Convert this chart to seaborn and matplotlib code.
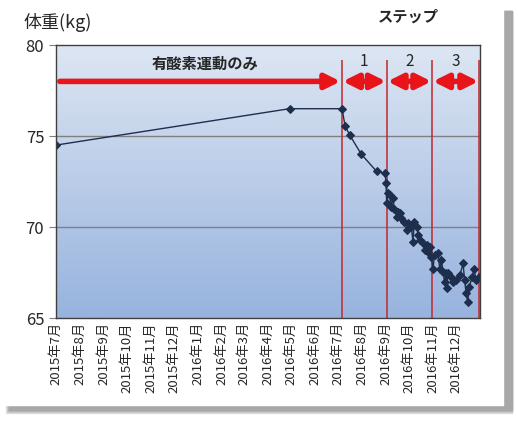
import numpy as np
import pandas as pd
import matplotlib
matplotlib.use("Agg")
import matplotlib.pyplot as plt
import matplotlib.dates as mdates
from matplotlib.colors import LinearSegmentedColormap
from matplotlib.patches import Rectangle
import seaborn as sns

# weight log (date, kg)
dates = [
    "2015-07-01", "2016-04-29", "2016-07-06", "2016-07-10", "2016-07-16",
    "2016-07-31", "2016-08-20", "2016-08-31", "2016-09-01", "2016-09-02",
    "2016-09-04", "2016-09-06", "2016-09-08", "2016-09-10", "2016-09-12",
    "2016-09-15", "2016-09-17", "2016-09-19", "2016-09-21", "2016-09-25",
    "2016-09-28", "2016-09-30", "2016-10-04", "2016-10-06", "2016-10-08",
    "2016-10-11", "2016-10-13", "2016-10-15", "2016-10-19", "2016-10-22",
    "2016-10-24", "2016-10-26", "2016-10-28", "2016-10-30", "2016-11-01",
    "2016-11-03", "2016-11-07", "2016-11-10", "2016-11-12", "2016-11-14",
    "2016-11-16", "2016-11-18", "2016-11-19", "2016-11-20", "2016-11-25",
    "2016-11-27", "2016-12-01", "2016-12-06", "2016-12-10", "2016-12-12",
    "2016-12-14", "2016-12-16", "2016-12-18", "2016-12-22", "2016-12-24",
    "2016-12-27", "2016-12-31",
]
weights = [
    74.5, 76.5, 76.5, 75.55, 75.05,
    74.0, 73.05, 72.95, 72.4, 71.3,
    71.85, 71.75, 71.1, 71.6, 71.0,
    70.55, 70.8, 70.75, 70.5, 70.3,
    69.85, 70.2, 70.0, 69.2, 70.3,
    70.0, 69.55, 69.3, 69.1, 68.75,
    69.0, 68.65, 68.9, 68.35, 67.7,
    68.45, 68.55, 67.7, 68.2, 67.55,
    67.0, 67.45, 66.65, 67.45, 67.25,
    67.0, 67.1, 67.35, 68.0, 67.1,
    66.35, 65.9, 66.7, 67.25, 67.7,
    67.1, 67.25,
]

# phase boundaries and labels
phase_lines = ["2016-07-06", "2016-09-02", "2016-10-31", "2016-12-31"]
phase_labels = ["1", "2", "3"]
month_ticks = pd.date_range("2015-07-01", "2016-12-01", freq="MS")
tick_labels = [f"{d.year}年{d.month}月" for d in month_ticks]

df = pd.DataFrame({"date": pd.to_datetime(dates), "weight": weights})

sns.set_style("white")
plt.rcParams["font.family"] = ["Noto Sans CJK JP", "DejaVu Sans"]

fig = plt.figure(figsize=(5.18, 4.23), dpi=100)
# card with a soft drop shadow
for k, col in enumerate(["#e2e2e2", "#cdcdcd", "#b9b9b9", "#a8a8a8"]):
    fig.patches.append(Rectangle(((6 + k) / 518, 1 - (413 - k) / 423), (506 - k) / 518,
                                 (402 - k) / 423, transform=fig.transFigure,
                                 color=col, zorder=-3))
fig.patches.append(Rectangle((0, 1 - 405 / 423), 503 / 518, 405 / 423,
                             transform=fig.transFigure, color="white", zorder=-2))

ax = fig.add_axes([56 / 518, 1 - 318 / 423, 424 / 518, 273 / 423])

x0 = pd.Timestamp("2015-07-01")
x1 = pd.Timestamp("2017-01-01")
ax.set_xlim(x0, x1)
ax.set_ylim(65, 80)

# gradient background
cmap = LinearSegmentedColormap.from_list("bg", ["#dde6f3", "#97b3de"])
ax.imshow(np.linspace(0, 1, 256).reshape(-1, 1), cmap=cmap, aspect="auto",
          extent=[mdates.date2num(x0), mdates.date2num(x1), 65, 80],
          origin="upper", zorder=0)

for yv in [70, 75]:
    ax.axhline(yv, color="#7f7f7f", lw=1, zorder=1)

ax.vlines(pd.to_datetime(phase_lines), 65, 79.2, color="#c0282e", lw=1.1, zorder=2)

sns.lineplot(data=df, x="date", y="weight", ax=ax, color="#1d2f4d", lw=1,
             marker="D", markersize=4.5, markeredgecolor="#1d2f4d", zorder=3)

# arrows
ax.annotate("", xy=(pd.Timestamp("2016-07-04"), 78), xytext=(pd.Timestamp("2015-07-06"), 78),
            arrowprops=dict(arrowstyle="-|>", color="#e8141a", lw=4, mutation_scale=22,
                            shrinkA=0, shrinkB=0), zorder=4)
pl = pd.to_datetime(phase_lines)
for i in range(3):
    ax.annotate("", xy=(pl[i + 1] - pd.Timedelta(days=1), 78),
                xytext=(pl[i] + pd.Timedelta(days=1), 78),
                arrowprops=dict(arrowstyle="<|-|>", color="#e8141a", lw=4, mutation_scale=22,
                                shrinkA=0, shrinkB=0), zorder=4)
    mid = pl[i] + (pl[i + 1] - pl[i]) / 2
    ax.text(mid, 79.1, phase_labels[i], ha="center", va="center", fontsize=11)

ax.text(pd.Timestamp("2016-01-10"), 79.0, "有酸素運動のみ", ha="center", va="center",
        fontsize=11, fontweight="bold")
ax.text(pd.Timestamp("2016-09-30"), 81.55, "ステップ", ha="center", va="center", fontsize=11,
        fontweight="bold", clip_on=False)
fig.text(23 / 518, 1 - 22 / 423, "体重(kg)", ha="left", va="center", fontsize=13)

ax.set_xticks(month_ticks)
ax.set_xticklabels(tick_labels, rotation=90, fontsize=9.5)
ax.set_yticks([65, 70, 75, 80])
ax.set_yticklabels(["65", "70", "75", "80"], fontsize=12)
ax.tick_params(axis="y", length=5, color="#7f7f7f", left=True)
ax.tick_params(axis="x", length=0, pad=3)
ax.set_xlabel("")
ax.set_ylabel("")
for s in ax.spines.values():
    s.set_color("#404040")
    s.set_linewidth(1)
    s.set_zorder(5)

fig.savefig("out.png", dpi=100)
